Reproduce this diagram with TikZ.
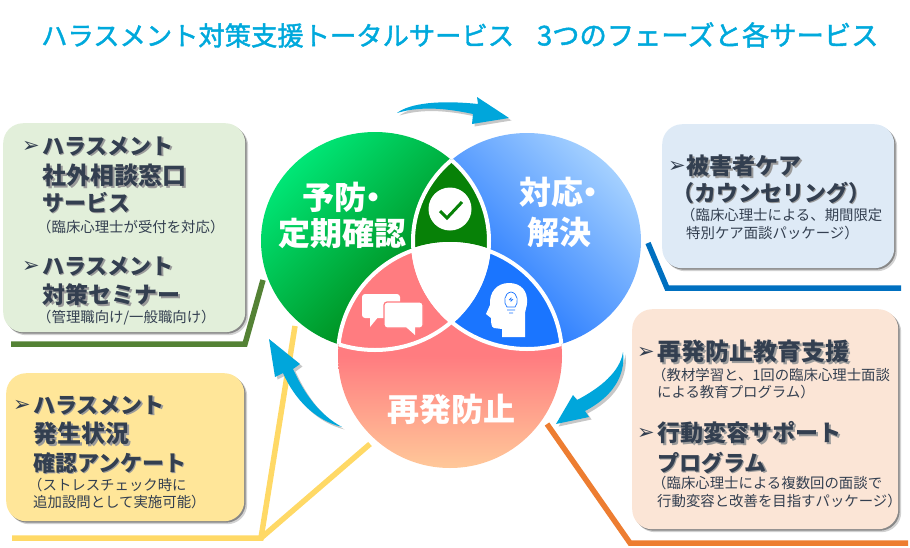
\documentclass[tikz,border=0pt]{standalone}
\usepackage{fontspec}
\setmainfont{Noto Sans CJK JP}
\newfontfamily\bulletfont{DejaVu Sans}
\newfontfamily\titlefont[FakeBold=1.6]{Noto Sans CJK JP}
\usetikzlibrary{shadows}
\definecolor{dk}{HTML}{333F50}
\definecolor{sh}{HTML}{9A9A9A}
\definecolor{tl}{HTML}{00A9DC}
\definecolor{arr}{HTML}{00A6DB}
\definecolor{gline}{HTML}{548235}
\definecolor{yline}{HTML}{FFD966}
\definecolor{bline}{HTML}{0070C0}
\definecolor{oline}{HTML}{ED7D31}
\definecolor{lensg}{HTML}{078107}
\definecolor{lensb}{HTML}{1A75FF}
\definecolor{lensr}{HTML}{FF7C80}
\definecolor{gpanel}{HTML}{E2EFDA}
\definecolor{ypanel}{HTML}{FFE699}
\definecolor{bpanel}{HTML}{DEEAF6}
\definecolor{opanel}{HTML}{FBE5D6}
\definecolor{vgA}{HTML}{00E676}
\definecolor{vgB}{HTML}{007000}
\definecolor{vbA}{HTML}{A4D0FF}
\definecolor{vbB}{HTML}{0060FF}
\definecolor{vrB}{HTML}{FFC899}
\newcommand\softtext[1]{\makebox[0pt][l]{\kern1.5pt\raisebox{-1.5pt}{\textcolor{sh}{#1}}}#1}
\newcommand\softwide[1]{\makebox[0pt][l]{\kern2pt\raisebox{-2pt}{\textcolor{sh}{#1}}}#1}
\tikzset{
  panel/.style={rounded corners=20pt,inner sep=0pt,anchor=north west,
    drop shadow={shadow xshift=3pt,shadow yshift=-3pt,fill=black,opacity=.18},
    drop shadow={shadow xshift=1.5pt,shadow yshift=-1.5pt,fill=black,opacity=.35}},
  headbase/.style={anchor=west,inner sep=0pt,text=dk,text height=19.6pt,text depth=2.7pt},
  heads/.style={headbase,font=\fontsize{22}{23}\selectfont\bfseries},
  headm/.style={headbase,font=\fontsize{23}{24}\selectfont\bfseries},
  headk/.style={headbase,font=\fontsize{24}{24}\selectfont\bfseries},
  note/.style={anchor=west,inner sep=0pt,text=dk,text height=12.7pt,text depth=1.7pt,font=\fontsize{14.4}{15}\selectfont},
  tip/.style={anchor=center,inner sep=0pt,text=dk,font=\fontsize{21}{21}\bulletfont},
  phasebase/.style={inner sep=0pt,text=white,text height=28.2pt,text depth=3.8pt,font=\fontsize{32}{32}\selectfont\bfseries},
  phase/.style={phasebase,anchor=center},
  phasew/.style={phasebase,anchor=west},
  rail/.style={line width=5.5pt,line join=miter},
  swoosh/.style={fill=arr},
  swooshsh/.style={fill=black,opacity=.22},
}
\newcommand\swooshA{(397,113) .. controls (410,103) and (440,100) .. (478,104) -- (477,97) -- (509,118) -- (472,124) -- (473,114) .. controls (445,108) and (420,106) .. (397,113) -- cycle}
\newcommand\swooshB{(623,352) .. controls (620,372) and (600,388) .. (577,400) -- (573,395) -- (556,424) -- (589,417) -- (585,411) .. controls (610,398) and (626,378) .. (623,352) -- cycle}
\newcommand\swooshC{(342,427) .. controls (320,415) and (305,395) .. (293,369) -- (300,364) -- (269,339) -- (275,377) -- (283,373) .. controls (295,400) and (315,420) .. (342,427) -- cycle}
\newcommand\ringG{(375,241) ellipse [x radius=114pt,y radius=109pt]}
\newcommand\ringB{(527,241) ellipse [x radius=114pt,y radius=108pt]}
\newcommand\ringR{(450,356) ellipse [x radius=112pt,y radius=112pt]}
\begin{document}
\begin{tikzpicture}[x=1pt,y=-1pt]
\useasboundingbox (0,0) rectangle (910,547);
% rails
\coordinate (g1) at (11,344); \coordinate (g2) at (245,344); \coordinate (g3) at (263,280);
\coordinate (y1) at (12,538); \coordinate (y2) at (261,538); \coordinate (y3) at (295,326); \coordinate (y4) at (370,444);
\coordinate (b1) at (648,243); \coordinate (b2) at (667,288); \coordinate (b3) at (901,288);
\coordinate (o1) at (547,424); \coordinate (o2) at (630,543); \coordinate (o3) at (908,543);
\draw[rail,gline] (g1) -- (g2) -- (g3);
\draw[rail,yline] (y1) -- (y2) -- (y3);
\draw[rail,yline] (y2) -- (y4);
\draw[rail,bline] (b1) -- (b2) -- (b3);
\draw[rail,oline] (o1) -- (o2) -- (o3);
% panels
\node[panel,fill=gpanel,minimum width=242pt,minimum height=209pt] (pg) at (3,123) {};
\node[panel,fill=ypanel,minimum width=238pt,minimum height=148pt] (py) at (6,373) {};
\node[panel,fill=bpanel,minimum width=232pt,minimum height=144pt] (pb) at (662,124) {};
\node[panel,fill=opanel,minimum width=266pt,minimum height=220pt] (po) at (632,309) {};
% swooshes
\fill[swooshsh,shift={(2.5,2.5)}] \swooshA;
\fill[swooshsh,shift={(2.5,2.5)}] \swooshB;
\fill[swooshsh,shift={(2.5,2.5)}] \swooshC;
\fill[swoosh] \swooshA;
\fill[swoosh] \swooshB;
\fill[swoosh] \swooshC;
% venn
\shade[top color=vgA,bottom color=vgB,shading angle=45] \ringG;
\shade[top color=vbA,bottom color=vbB,shading angle=-45] \ringB;
\shade[top color=lensr,bottom color=vrB,middle color=lensr] \ringR;
\begin{scope}\clip \ringG; \fill[lensg] \ringB; \end{scope}
\begin{scope}\clip \ringG; \fill[lensr] \ringR; \end{scope}
\begin{scope}\clip \ringB; \fill[lensb] \ringR; \end{scope}
\begin{scope}\clip \ringG; \clip \ringB; \fill[white] \ringR; \end{scope}
\begin{scope}\clip \ringG; \draw[white,line width=4pt] \ringB; \draw[white,line width=4pt] \ringR; \end{scope}
\begin{scope}\clip \ringB; \draw[white,line width=4pt] \ringG; \draw[white,line width=4pt] \ringR; \end{scope}
\begin{scope}\clip \ringR; \draw[white,line width=4pt] \ringG; \draw[white,line width=4pt] \ringB; \end{scope}
% check icon
\fill[white] (450,209) circle [radius=21.5pt];
\draw[lensg,line width=3pt] (440,211) -- (447,218) -- (462,202);
% chat icon
\fill[white,rounded corners=3pt] (362,294) rectangle (400,318);
\fill[white] (370,316) -- (370,327) -- (379,316) -- cycle;
\filldraw[fill=white,draw=lensr,line width=1.2pt,rounded corners=3pt] (384,302) rectangle (423,328);
\fill[white] (406,327) -- (415,335) -- (415,327) -- cycle;
% head icon
\fill[white] (502,337) -- (502,329) -- (494,328) .. controls (491,327) and (491,322) .. (491,318) -- (486,314) -- (490,305)
  .. controls (489,292) and (497,283) .. (509,283) .. controls (521,283) and (528,291) .. (527,303)
  .. controls (527,307) and (525,310) .. (525,313) -- (525,337) -- cycle;
\draw[lensb,line width=.7pt] (507,307) .. controls (503,303) and (504,293) .. (511,292) .. controls (518,293) and (519,303) .. (515,307) -- cycle;
\draw[lensb,line width=.7pt] (507,310) -- (515,310) (509,313) -- (513,313) (509,300) -- (511,298) -- (511,301) -- (513,299);
% title
\node[anchor=west,inner sep=0pt,text=tl,font=\fontsize{26.3}{27}\titlefont] (title) at (41,35)
  {ハラスメント対策支援トータルサービス\hspace{23pt}{\fontsize{27.3}{27}\selectfont 3つのフェーズと各サービス}};
% phases
\node[phasew] (p1a) at (302,197) {予防\hspace{-9pt}・};
\node[phase] (p1b) at (342,233) {定期確認};
\node[phasew] (p2a) at (519,192) {対応\hspace{-9pt}・};
\node[phase] (p2b) at (559,232) {解決};
\node[phase] (p3) at (451,409) {再発防止};
% green panel text
\node[tip] (t1) at (31,147) {➢};
\node[heads] (g11) at (42,146) {\softtext{ハラスメント}};
\node[headk] (g12) at (42,176) {\softwide{社外相談窓口}};
\node[heads] (g13) at (42,203) {\softtext{サービス}};
\node[note] (g14) at (37,227) {（臨床心理士が受付を対応）};
\node[tip] (t2) at (31,267) {➢};
\node[heads] (g21) at (42,266) {\softtext{ハラスメント}};
\node[headm] (g22) at (42,295) {\softwide{対策セミナー}};
\node[note] (g23) at (37,317) {（管理職向け/一般職向け）};
% yellow panel text
\node[tip] (t3) at (22,406) {➢};
\node[heads] (y11) at (33,405) {\softtext{ハラスメント}};
\node[headk] (y12) at (33,434) {\softwide{発生状況}};
\node[heads] (y13) at (33,463) {\softtext{確認アンケート}};
\node[note] (y14) at (28,485) {（ストレスチェック時に};
\node[note] (y15) at (33,502) {追加設問として実施可能）};
% blue panel text
\node[tip] (t4) at (677,167) {➢};
\node[headm] (b11) at (686,166) {\softwide{被害者ケア}};
\node[heads] (b12) at (672,193) {\softtext{（カウンセリング）}};
\node[note] (b13) at (681,215) {（臨床心理士による、期間限定};
\node[note] (b14) at (686,233) {特別ケア面談パッケージ）};
% orange panel text
\node[tip] (t5) at (646,353) {➢};
\node[headk] (o11) at (657,352) {\softwide{再発防止教育支援}};
\node[note] (o12) at (652,375) {（教材学習と、1回の臨床心理士面談};
\node[note] (o13) at (657,392) {による教育プログラム）};
\node[tip] (t6) at (646,434) {➢};
\node[headm] (o21) at (657,433) {\softwide{行動変容サポート}};
\node[heads] (o22) at (657,463) {\softtext{プログラム}};
\node[note] (o23) at (652,483) {（臨床心理士による複数回の面談で};
\node[note] (o24) at (657,501) {行動変容と改善を目指すパッケージ）};
\end{tikzpicture}
\end{document}
